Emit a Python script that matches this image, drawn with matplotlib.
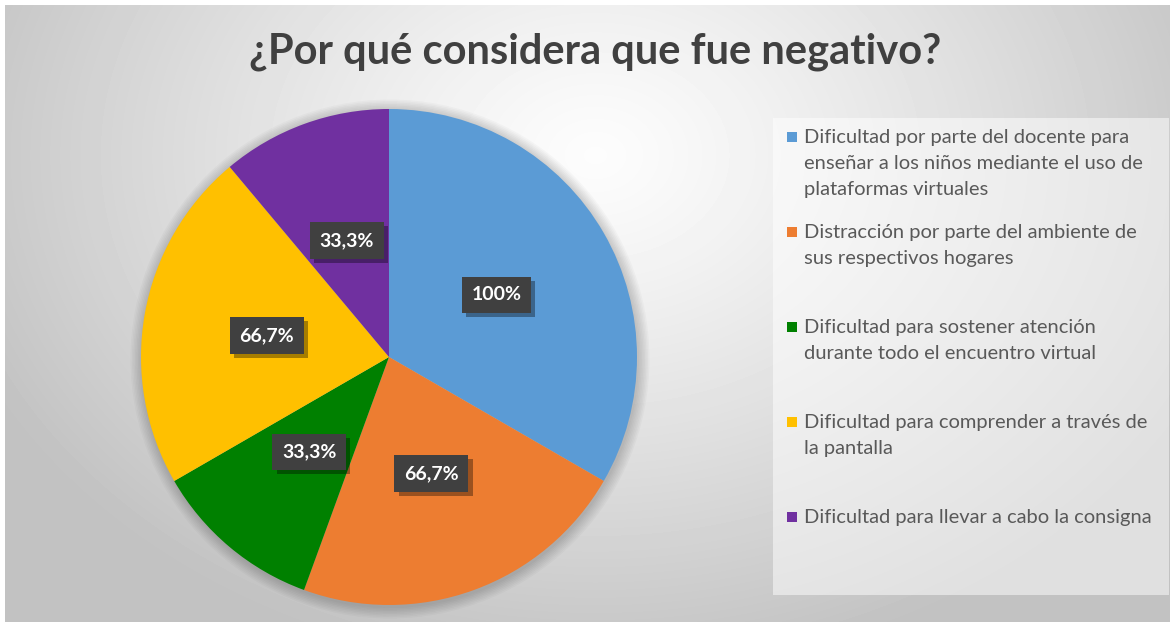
import numpy as np
import matplotlib.pyplot as plt
import matplotlib.patheffects as pe
from matplotlib.patches import Rectangle, Circle

plt.rcParams['font.family'] = ['Lato', 'DejaVu Sans']

titulo = "¿Por qué considera que fue negativo?"
categorias = [
    "Dificultad por parte del docente para\nenseñar a los niños mediante el uso de\nplataformas virtuales",
    "Distracción por parte del ambiente de\nsus respectivos hogares",
    "Dificultad para sostener atención\ndurante todo el encuentro virtual",
    "Dificultad para comprender a través de\nla pantalla",
    "Dificultad para llevar a cabo la consigna",
]
valores = [100, 66.7, 33.3, 66.7, 33.3]
colores = ['#5B9BD5', '#ED7D31', '#008000', '#FFC000', '#7030A0']

W, H = 1175, 625
fig = plt.figure(figsize=(W / 100, H / 100), dpi=100)
fig.patch.set_facecolor('white')

# fondo con degradado radial
bg = fig.add_axes([5 / W, 3 / H, 1165 / W, 617 / H])
yy, xx = np.mgrid[0:617, 0:1165]
d = np.hypot(xx - 590, (yy - 150) * 1.3)
d = d / d.max()
grad = 0.99 - 0.23 * np.clip(d * 1.25, 0, 1) ** 1.2
bg.imshow(grad, cmap='gray', vmin=0, vmax=1, aspect='auto', interpolation='bilinear')
bg.set_axis_off()

ax = fig.add_axes([0, 0, 1, 1])
ax.patch.set_alpha(0)

cx, cy, r = 389, H - 357, 248

# sombra suave alrededor del círculo
for k in range(8):
    ax.add_patch(Circle((cx + 1, cy - 2), r + 1 + k * 1.5, color='black',
                        alpha=0.025, lw=0, zorder=1))

wedges, _ = ax.pie(valores, colors=colores, startangle=90, counterclock=False,
                   center=(cx, cy), radius=r, frame=True,
                   wedgeprops=dict(linewidth=0, zorder=2))
ax.set_xlim(0, W)
ax.set_ylim(0, H)
ax.set_aspect('equal')
ax.set_axis_off()


def etiqueta(v):
    if v == 100:
        return "100%"
    return f"{v:.1f}".replace('.', ',') + "%"


for w, v in zip(wedges, valores):
    ang = np.deg2rad((w.theta1 + w.theta2) / 2)
    x = cx + 0.5 * r * np.cos(ang)
    y = cy + 0.5 * r * np.sin(ang)
    t = ax.text(x, y, etiqueta(v), ha='center', va='center', color='white',
                fontsize=14, fontweight='bold', zorder=5,
                bbox=dict(boxstyle='square,pad=0.5', fc='#404040', ec='none'))
    t.get_bbox_patch().set_path_effects([
        pe.SimplePatchShadow(offset=(3, -3), shadow_rgbFace='black', alpha=0.35),
        pe.Normal()])

fig.text(595 / W, 1 - 52 / H, titulo, ha='center', va='center',
         fontsize=30, fontweight='bold', color='#404040')

# leyenda
ax.add_patch(Rectangle((773, H - 595), 396, 477, fc='white', alpha=0.5,
                       ec='none', zorder=1))
for i, (cat, col) in enumerate(zip(categorias, colores)):
    ytop = 137 + i * 95
    ax.add_patch(Rectangle((787, H - ytop - 5), 10, 10, fc=col, ec='none', zorder=3))
    ax.text(804, H - ytop + 8, cat, ha='left', va='top', fontsize=14.5,
            color='#595959', linespacing=1.63, zorder=3)

fig.savefig('out.png', dpi=100)
